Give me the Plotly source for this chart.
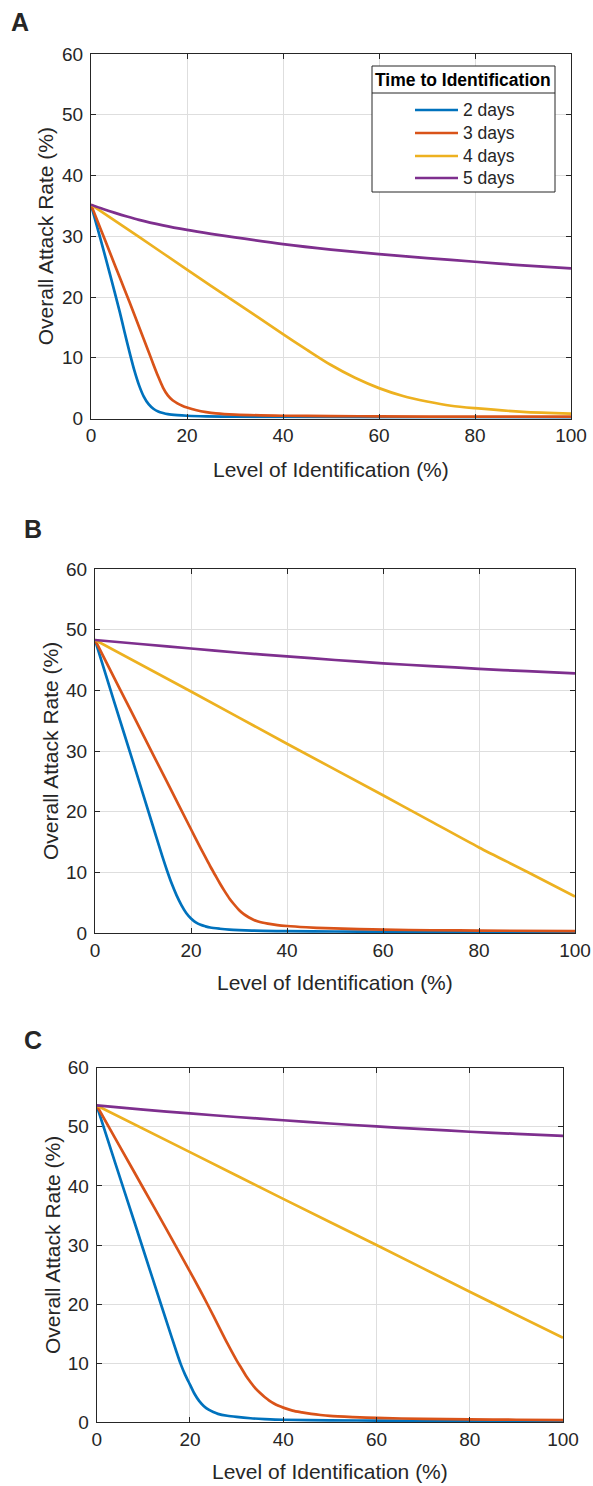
import plotly.graph_objects as go

W, H = 593, 1486
FONT = "Liberation Sans, Arial, Helvetica, sans-serif"
INK = "#262626"
GRID = "#dedede"

series_names = ["2 days", "3 days", "4 days", "5 days"]
series_colors = ["#0072BD", "#D95319", "#EDB120", "#7E2F8E"]

x_tick_vals = [0, 20, 40, 60, 80, 100]
y_tick_vals = [0, 10, 20, 30, 40, 50, 60]

# ---- Panel A ----
a_x_2d = [0, 2, 4, 6, 7, 8, 9, 10, 11, 12, 13, 14, 15, 16, 18, 20, 24, 30, 40, 60, 80, 100]
a_y_2d = [35.2, 29.5, 23.6, 17.5, 14.2, 11.0, 8.0, 5.5, 3.6, 2.35, 1.6, 1.15, 0.9, 0.72, 0.55, 0.45, 0.35, 0.3, 0.25, 0.2, 0.18, 0.15]
a_x_3d = [0, 2, 4, 6, 8, 10, 12, 13, 14, 15, 16, 17, 18, 19, 20, 22, 24, 26, 30, 40, 50, 60, 80, 100]
a_y_3d = [35.2, 31.2, 27.2, 23.2, 19.2, 15.1, 11.0, 8.9, 6.9, 5.1, 3.8, 3.0, 2.5, 2.1, 1.8, 1.35, 1.05, 0.85, 0.65, 0.45, 0.4, 0.35, 0.3, 0.3]
a_x_4d = [0, 10, 20, 30, 40, 45, 50, 55, 60, 65, 70, 75, 80, 90, 100]
a_y_4d = [35.2, 29.9, 24.5, 19.2, 13.9, 11.3, 8.8, 6.7, 5.0, 3.7, 2.8, 2.1, 1.7, 1.1, 0.8]
a_x_5d = [0, 2.5, 5, 7.5, 10, 15, 20, 25, 30, 40, 50, 60, 70, 80, 90, 100]
a_y_5d = [35.2, 34.5, 33.85, 33.25, 32.7, 31.8, 31.05, 30.4, 29.8, 28.7, 27.8, 27.05, 26.4, 25.8, 25.2, 24.7]

# ---- Panel B ----
b_x_2d = [0, 4, 8, 12, 14, 15, 16, 17, 18, 19, 20, 21, 22, 23, 24, 26, 28, 30, 35, 40, 50, 60, 80, 100]
b_y_2d = [48.3, 38.1, 28.0, 17.8, 12.7, 10.3, 8.1, 6.2, 4.6, 3.3, 2.4, 1.75, 1.35, 1.1, 0.9, 0.7, 0.55, 0.47, 0.35, 0.3, 0.25, 0.2, 0.18, 0.15]
b_x_3d = [0, 5, 10, 15, 20, 22, 23, 24, 25, 26, 27, 28, 29, 30, 31, 32, 33, 34, 36, 38, 40, 44, 48, 55, 60, 70, 80, 100]
b_y_3d = [48.3, 40.5, 32.7, 24.9, 17.1, 14.0, 12.5, 11.0, 9.6, 8.2, 6.9, 5.7, 4.7, 3.8, 3.1, 2.6, 2.2, 1.9, 1.55, 1.3, 1.15, 0.95, 0.8, 0.65, 0.55, 0.45, 0.4, 0.3]
b_x_4d = [0, 20, 40, 60, 70, 80, 90, 100]
b_y_4d = [48.3, 39.8, 31.2, 22.7, 18.4, 14.1, 10.1, 6.0]
b_x_5d = [0, 10, 20, 30, 40, 50, 60, 70, 80, 90, 100]
b_y_5d = [48.3, 47.6, 46.9, 46.2, 45.6, 45.0, 44.45, 44.0, 43.55, 43.15, 42.8]

# ---- Panel C ----
c_x_2d = [0, 4, 8, 12, 16, 17, 18, 19, 20, 21, 22, 23, 24, 25, 26, 28, 30, 33, 36, 40, 50, 60, 80, 100]
c_y_2d = [53.6, 43.8, 34.1, 24.3, 14.6, 12.2, 9.9, 8.0, 6.4, 4.8, 3.6, 2.75, 2.15, 1.75, 1.45, 1.12, 0.92, 0.7, 0.57, 0.45, 0.35, 0.3, 0.25, 0.2]
c_x_3d = [0, 5, 10, 15, 20, 22, 24, 26, 28, 30, 31, 32, 33, 34, 35, 36, 37, 38, 39, 40, 42, 44, 46, 48, 50, 55, 60, 70, 80, 90, 100]
c_y_3d = [53.6, 46.6, 39.6, 32.6, 25.5, 22.6, 19.6, 16.5, 13.4, 10.5, 9.2, 7.9, 6.8, 5.8, 5.0, 4.3, 3.7, 3.2, 2.8, 2.5, 2.0, 1.7, 1.45, 1.25, 1.1, 0.9, 0.75, 0.6, 0.5, 0.45, 0.4]
c_x_4d = [0, 20, 40, 60, 80, 100]
c_y_4d = [53.6, 45.7, 37.8, 30.0, 22.1, 14.3]
c_x_5d = [0, 10, 20, 30, 40, 50, 60, 70, 80, 90, 100]
c_y_5d = [53.6, 52.9, 52.25, 51.65, 51.1, 50.55, 50.05, 49.6, 49.15, 48.8, 48.45]

panels = [
    ("A", [(a_x_2d, a_y_2d), (a_x_3d, a_y_3d), (a_x_4d, a_y_4d), (a_x_5d, a_y_5d)]),
    ("B", [(b_x_2d, b_y_2d), (b_x_3d, b_y_3d), (b_x_4d, b_y_4d), (b_x_5d, b_y_5d)]),
    ("C", [(c_x_2d, c_y_2d), (c_x_3d, c_y_3d), (c_x_4d, c_y_4d), (c_x_5d, c_y_5d)]),
]

# plot-box pixel rectangles (left, top, right, bottom)
boxes = [
    (91, 54, 571, 418.5),
    (95, 569, 575, 933),
    (96.7, 1067.6, 563, 1422.4),
]
letter_pos = [(20, 22), (33, 529), (33, 1040)]
ytitle_x = [45, 50, 52]
xtitle_y = [470, 982, 1471]


def px(x):
    return x / W


def py(y):
    return 1 - y / H


fig = go.Figure()
layout = dict(
    width=W, height=H,
    margin=dict(l=0, r=0, t=0, b=0, pad=0),
    paper_bgcolor="white", plot_bgcolor="white",
    showlegend=False,
    font=dict(family=FONT, size=19, color=INK),
)
annotations = []
shapes = []

for i, (letter, series) in enumerate(panels):
    n = "" if i == 0 else str(i + 1)
    xa, ya = "x" + n, "y" + n
    l, t, r, b = boxes[i]
    axis_common = dict(
        showline=True, linecolor=INK, linewidth=1, mirror="ticks",
        ticks="inside", ticklen=5, tickcolor=INK, tickwidth=1,
        showgrid=True, gridcolor=GRID, gridwidth=1, zeroline=False,
        automargin=False,
        tickfont=dict(family=FONT, size=19, color=INK),
    )
    layout["xaxis" + n] = dict(
        axis_common, domain=[px(l), px(r)], range=[0, 100],
        tickvals=x_tick_vals, anchor=ya, fixedrange=True,
    )
    layout["yaxis" + n] = dict(
        axis_common, domain=[py(b), py(t)], range=[0, 60],
        tickvals=y_tick_vals, anchor=xa, fixedrange=True,
        ticklabelstandoff=3,
    )
    for (xs, ys), name, color in zip(series, series_names, series_colors):
        fig.add_trace(go.Scatter(
            x=xs, y=ys, name=name, mode="lines", xaxis=xa, yaxis=ya,
            line=dict(color=color, width=2.7, shape="spline", smoothing=0.8),
        ))
    lx, ly = letter_pos[i]
    annotations.append(dict(
        text="<b>%s</b>" % letter, x=px(lx), y=py(ly), xref="paper", yref="paper",
        showarrow=False, xanchor="center", yanchor="middle",
        font=dict(family=FONT, size=25, color=INK),
    ))
    annotations.append(dict(
        text="Overall Attack Rate (%)", x=px(ytitle_x[i]), y=py((t + b) / 2),
        xref="paper", yref="paper", showarrow=False, textangle=-90,
        xanchor="center", yanchor="middle",
        font=dict(family=FONT, size=21, color=INK),
    ))
    annotations.append(dict(
        text="Level of Identification (%)", x=px((l + r) / 2), y=py(xtitle_y[i]),
        xref="paper", yref="paper", showarrow=False,
        xanchor="center", yanchor="middle",
        font=dict(family=FONT, size=21, color=INK),
    ))

# legend box inside panel A
lg_l, lg_t, lg_r, lg_b, lg_sep = 372, 66, 555, 192, 93
shapes.append(dict(type="rect", xref="paper", yref="paper",
                   x0=px(lg_l), x1=px(lg_r), y0=py(lg_b), y1=py(lg_t),
                   line=dict(color=INK, width=1), fillcolor="white", layer="above"))
shapes.append(dict(type="line", xref="paper", yref="paper",
                   x0=px(lg_l), x1=px(lg_r), y0=py(lg_sep), y1=py(lg_sep),
                   line=dict(color=INK, width=1), layer="above"))
annotations.append(dict(
    text="<b>Time to Identification</b>", x=px((lg_l + lg_r) / 2), y=py((lg_t + lg_sep) / 2 + 1),
    xref="paper", yref="paper", showarrow=False, xanchor="center", yanchor="middle",
    font=dict(family=FONT, size=17.5, color="black"),
))
row_y = [110, 133, 156, 178]
for name, color, ry in zip(series_names, series_colors, row_y):
    shapes.append(dict(type="line", xref="paper", yref="paper",
                       x0=px(415), x1=px(458), y0=py(ry), y1=py(ry),
                       line=dict(color=color, width=2.7), layer="above"))
    annotations.append(dict(
        text=name, x=px(461), y=py(ry), xref="paper", yref="paper",
        showarrow=False, xanchor="left", yanchor="middle",
        font=dict(family=FONT, size=17.5, color=INK),
    ))

layout["annotations"] = annotations
layout["shapes"] = shapes
fig.update_layout(**layout)
fig.write_html("out.html")
